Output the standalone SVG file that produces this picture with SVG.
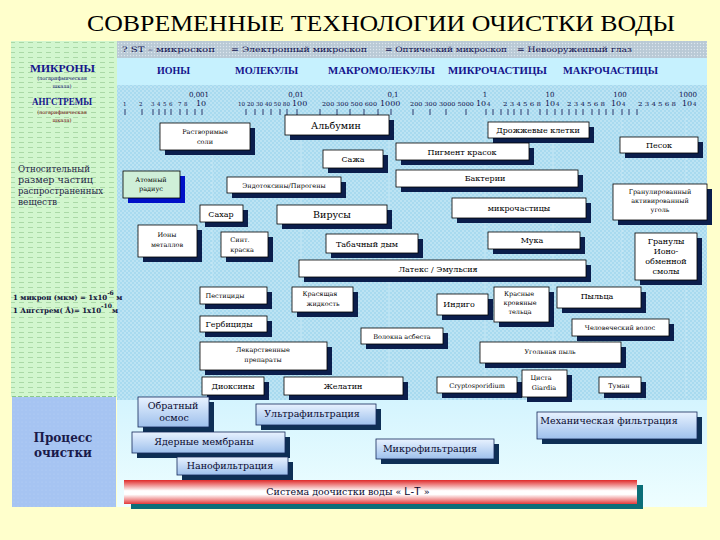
<svg xmlns="http://www.w3.org/2000/svg" width="720" height="540" viewBox="0 0 720 540">
<defs>
<pattern id="dots" width="4" height="4" patternUnits="userSpaceOnUse">
<rect width="4" height="4" fill="#A8DAEF"/>
<circle cx="1" cy="1" r="0.8" fill="#D6EFF9"/>
<circle cx="3" cy="3" r="0.8" fill="#D6EFF9"/>
</pattern>
<pattern id="grey" width="3" height="3" patternUnits="userSpaceOnUse">
<rect width="3" height="3" fill="#B9C9D5"/>
<circle cx="1.5" cy="1.5" r="0.7" fill="#DCE6EE"/>
</pattern>
<pattern id="green" width="9" height="5" patternUnits="userSpaceOnUse">
<rect width="9" height="5" fill="#D2F6CE"/>
<line x1="1" y1="2.5" x2="6" y2="2.5" stroke="#A6D6A2" stroke-width="0.9"/>
</pattern>
<pattern id="blue" width="4" height="4" patternUnits="userSpaceOnUse">
<rect width="4" height="4" fill="#A6C4F2"/>
<circle cx="2" cy="2" r="0.6" fill="#B6D0F6"/>
</pattern>
<linearGradient id="lowbg" x1="0" y1="0" x2="0" y2="1">
<stop offset="0" stop-color="#D4F4FE"/>
<stop offset="1" stop-color="#EEFEFF"/>
</linearGradient>
<linearGradient id="pg" x1="0" y1="0" x2="0" y2="1">
<stop offset="0" stop-color="#E8F2FF"/>
<stop offset="1" stop-color="#9EC0EC"/>
</linearGradient>
<linearGradient id="lt" x1="0" y1="0" x2="0" y2="1">
<stop offset="0" stop-color="#E02A2A"/>
<stop offset="0.45" stop-color="#FFFFFF"/>
<stop offset="0.6" stop-color="#FFFFFF"/>
<stop offset="1" stop-color="#E23A3A"/>
</linearGradient>
<style>
.ttl{font-family:"Liberation Serif","Times New Roman",serif;font-size:24px;fill:#000;text-anchor:middle}
.bx{fill:#FFFFFF;stroke:#000;stroke-width:0.8}
.sh{fill:#0B1E4C}
.t{font-family:"DejaVu Serif","Liberation Serif",serif;font-size:8px;fill:#000;text-anchor:middle}
.s{font-size:6.5px}
.m{font-size:9.5px}
.pb{fill:url(#pg);stroke:#14285A;stroke-width:0.8}
.psh{fill:#0E2F55}
.p{font-family:"DejaVu Serif","Liberation Serif",serif;font-size:9.5px;fill:#0A0A30;text-anchor:middle}
.cat{font-family:"Liberation Serif","DejaVu Serif",serif;font-size:9.5px;font-weight:bold;fill:#14148C}
.num{font-family:"DejaVu Serif","Liberation Serif",serif;font-size:5.5px;fill:#10104A}
.big{font-size:8px}
.dec{font-family:"DejaVu Serif","Liberation Serif",serif;font-size:7px;fill:#10104A;text-anchor:middle}
.mic{font-family:"DejaVu Serif","Liberation Serif",serif;font-size:7.5px;fill:#101050}
.lf{font-family:"DejaVu Serif","Liberation Serif",serif}
.tick{stroke:#10104A;stroke-width:0.8}
.vl{stroke:#CDEBF7;stroke-width:1;stroke-dasharray:2 2}
</style>
</defs>
<rect width="720" height="540" fill="#FFFFCC"/>
<g id="title">
<text class="ttl" x="381" y="31" textLength="588" lengthAdjust="spacingAndGlyphs">СОВРЕМЕННЫЕ ТЕХНОЛОГИИ ОЧИСТКИ ВОДЫ</text>
</g>
<g id="panels">
<rect x="11" y="41" width="106" height="356" fill="url(#green)"/>
<rect x="117" y="41" width="590" height="17" fill="url(#grey)"/>
<rect x="117" y="58" width="590" height="27" fill="#C6F1FE"/>
<rect x="117" y="85" width="590" height="315" fill="url(#dots)"/>
<rect x="117" y="400" width="590" height="107" fill="url(#lowbg)"/>
<rect x="12" y="397" width="104" height="110" fill="url(#blue)"/>
<line x1="12" y1="396.5" x2="116" y2="396.5" stroke="#8CC88A" stroke-width="1" stroke-dasharray="4 2"/>
<line class="vl" x1="212" y1="118" x2="212" y2="398"/>
<line class="vl" x1="301" y1="118" x2="301" y2="398"/>
<line class="vl" x1="389" y1="118" x2="389" y2="398"/>
<line class="vl" x1="485" y1="118" x2="485" y2="398"/>
<line class="vl" x1="553" y1="118" x2="553" y2="398"/>
<line class="vl" x1="622" y1="118" x2="622" y2="398"/>
<line class="vl" x1="686" y1="118" x2="686" y2="398"/>
</g>
<g id="microscopes">
<text class="mic" x="122" y="52" textLength="93" lengthAdjust="spacingAndGlyphs">?  ST – микроскоп</text>
<text class="mic" x="231" y="52" textLength="136" lengthAdjust="spacingAndGlyphs">= Электронный микроскоп</text>
<text class="mic" x="385" y="52" textLength="122" lengthAdjust="spacingAndGlyphs">= Оптический микроскоп</text>
<text class="mic" x="517" y="52" textLength="115" lengthAdjust="spacingAndGlyphs">= Невооруженный глаз</text>
</g>
<g id="categories">
<text class="cat" x="157" y="74" textLength="33" lengthAdjust="spacingAndGlyphs">ИОНЫ</text>
<text class="cat" x="235" y="74" textLength="63" lengthAdjust="spacingAndGlyphs">МОЛЕКУЛЫ</text>
<text class="cat" x="328" y="74" textLength="107" lengthAdjust="spacingAndGlyphs">МАКРОМОЛЕКУЛЫ</text>
<text class="cat" x="448" y="74" textLength="99" lengthAdjust="spacingAndGlyphs">МИКРОЧАСТИЦЫ</text>
<text class="cat" x="563" y="74" textLength="95" lengthAdjust="spacingAndGlyphs">МАКРОЧАСТИЦЫ</text>
</g>
<g id="left-labels">
<text class="cat" x="30" y="72" font-size="11" fill="#0A0A6A" textLength="65" lengthAdjust="spacingAndGlyphs">МИКРОНЫ</text>
<text class="lf" x="62" y="80" text-anchor="middle" font-size="5" fill="#0A0A6A">(логарифмическая</text>
<text class="lf" x="62" y="88" text-anchor="middle" font-size="5" fill="#0A0A6A">шкала)</text>
<text class="cat" x="32" y="105" font-size="10" fill="#8C0000" textLength="60" lengthAdjust="spacingAndGlyphs">АНГСТРЕМЫ</text>
<text class="lf" x="62" y="114" text-anchor="middle" font-size="5" fill="#6A0000">(логарифмическая</text>
<text class="lf" x="62" y="122" text-anchor="middle" font-size="5" fill="#6A0000">шкала)</text>
<text class="lf" x="18" y="172" font-size="9" fill="#262648" textLength="72" lengthAdjust="spacingAndGlyphs">Относительный</text>
<text class="lf" x="18" y="183" font-size="9" fill="#262648" textLength="75" lengthAdjust="spacingAndGlyphs">размер частиц</text>
<text class="lf" x="18" y="194" font-size="9" fill="#262648" textLength="85" lengthAdjust="spacingAndGlyphs">распространенных</text>
<text class="lf" x="18" y="205" font-size="9" fill="#262648">веществ</text>
<text class="lf" x="13" y="300" font-size="7" font-weight="bold" fill="#10103A">1  микрон (мкм) = 1x10<tspan dy="-5" font-size="6">-6</tspan><tspan dy="5"> м</tspan></text>
<text class="lf" x="13" y="313" font-size="7" font-weight="bold" fill="#10103A">1  Ангстрем(  Å)= 1x10<tspan dy="-5" font-size="6">-10</tspan><tspan dy="5">м</tspan></text>
<text class="lf" x="63" y="442" text-anchor="middle" font-size="12" font-weight="bold" fill="#1A1A4A">Процесс</text>
<text class="lf" x="63" y="457" text-anchor="middle" font-size="12" font-weight="bold" fill="#1A1A4A">очистки</text>
</g>
<g id="scale">
<text class="dec" x="199" y="97">0,001</text>
<text class="dec" x="296" y="97">0,01</text>
<text class="dec" x="393" y="97">0,1</text>
<text class="dec" x="485" y="97">1</text>
<text class="dec" x="550" y="97">10</text>
<text class="dec" x="620" y="97">100</text>
<text class="dec" x="688" y="97">1000</text>
<text class="num" x="123" y="106">1</text>
<text class="num" x="139" y="106">2</text>
<text class="num" x="151" y="106">3</text>
<text class="num" x="157" y="106">4</text>
<text class="num" x="163" y="106">5</text>
<text class="num" x="169" y="106">6</text>
<text class="num" x="178" y="106">7</text>
<text class="num" x="184" y="106">8</text>
<text class="num big" x="196" y="106">10</text>
<text class="num" x="238" y="106" textLength="52" lengthAdjust="spacingAndGlyphs">10 20 30 40 50 80</text>
<text class="num big" x="292" y="106">100</text>
<text class="num" x="322" y="106" textLength="55" lengthAdjust="spacingAndGlyphs">200  300  500  600</text>
<text class="num big" x="380" y="106">1000</text>
<text class="num" x="410" y="106" textLength="64" lengthAdjust="spacingAndGlyphs">200   300   3000  5000</text>
<text class="num big" x="476" y="106">10</text><text class="num" x="487" y="106">4</text>
<text class="num" x="503" y="106" textLength="38" lengthAdjust="spacingAndGlyphs">2  3  4  5  6  8</text>
<text class="num big" x="545" y="106">10</text><text class="num" x="556" y="106">4</text>
<text class="num" x="567" y="106" textLength="38" lengthAdjust="spacingAndGlyphs">2  3  4  5  6  8</text>
<text class="num big" x="611" y="106">10</text><text class="num" x="622" y="106">4</text>
<text class="num" x="638" y="106" textLength="38" lengthAdjust="spacingAndGlyphs">2  3  4  5  6  8</text>
<text class="num big" x="682" y="106">10</text><text class="num" x="693" y="106">4</text>
<path class="tick" d="M125 109v6M142 109v6M153 109v6M159 109v6M165 109v6M171 109v6M180 109v6M187 109v6M195 109v6M202 109v6M246 109v6M255 109v6M263 109v6M271 109v6M280 109v6M287 109v6M297 109v6M320 109v6M337 109v6M350 109v6M364 109v6M378 109v6M391 109v6M413 109v6M430 109v6M446 109v6M466 109v6M486 109v6M493 109v6M501 109v6M508 109v6M514 109v6M521 109v6M528 109v6M540 109v6M547 109v6M555 109v6M562 109v6M569 109v6M576 109v6M583 109v6M592 109v6M599 109v6M606 109v6M613 109v6M622 109v6M629 109v6M637 109v6"/>
</g>
<g id="connectors"></g>
<g id="n-soli"><rect class="sh" x="165" y="128" width="90" height="27"/><rect class="bx" x="160" y="123" width="90" height="27"/><text class="t s" x="205" y="134">Растворимые</text><text class="t s" x="205" y="144">соли</text></g>
<g id="n-albumin"><rect class="sh" x="290" y="120" width="104" height="20"/><rect class="bx" x="285" y="115" width="104" height="20"/><text class="t m" x="336" y="129">Альбумин</text></g>
<g id="n-yeast"><rect class="sh" x="493" y="127" width="101" height="16"/><rect class="bx" x="488" y="122" width="101" height="16"/><text class="t" x="538" y="133">Дрожжевые клетки</text></g>
<g id="n-soot"><rect class="sh" x="328" y="155" width="60" height="18"/><rect class="bx" x="323" y="150" width="60" height="18"/><text class="t" x="353" y="162">Сажа</text></g>
<g id="n-pigment"><rect class="sh" x="401" y="148" width="133" height="17"/><rect class="bx" x="396" y="143" width="133" height="17"/><text class="t" x="462" y="155">Пигмент красок</text></g>
<g id="n-sand"><rect class="sh" x="625" y="142" width="78" height="16"/><rect class="bx" x="620" y="137" width="78" height="16"/><text class="t" x="659" y="148">Песок</text></g>
<g id="n-atom"><rect x="128" y="176" width="57" height="27" fill="#0010C8"/><rect x="123" y="171" width="57" height="27" fill="#CFEFD8" stroke="#000" stroke-width="0.8"/><text class="t s" x="151" y="182">Атомный</text><text class="t s" x="151" y="191">радиус</text></g>
<g id="n-endo"><rect class="sh" x="232" y="182" width="114" height="16"/><rect class="bx" x="227" y="177" width="114" height="16"/><text class="t s" x="284" y="188">Эндотоксины/Пирогены</text></g>
<g id="n-bact"><rect class="sh" x="401" y="175" width="182" height="17"/><rect class="bx" x="396" y="170" width="182" height="17"/><text class="t" x="485" y="181">Бактерии</text></g>
<g id="n-gac"><rect class="sh" x="618" y="189" width="94" height="36"/><rect class="bx" x="613" y="184" width="94" height="36"/><text class="t s" x="660" y="194">Гранулированный</text><text class="t s" x="660" y="203">активированный</text><text class="t s" x="660" y="212">уголь</text></g>
<g id="n-sugar"><rect class="sh" x="205" y="210" width="43" height="17"/><rect class="bx" x="200" y="205" width="43" height="17"/><text class="t" x="221" y="217">Сахар</text></g>
<g id="n-virus"><rect class="sh" x="282" y="210" width="110" height="19"/><rect class="bx" x="277" y="205" width="110" height="19"/><text class="t m" x="332" y="218">Вирусы</text></g>
<g id="n-micro"><rect class="sh" x="457" y="203" width="134" height="20"/><rect class="bx" x="452" y="198" width="134" height="20"/><text class="t" x="519" y="211">микрочастицы</text></g>
<g id="n-ions"><rect class="sh" x="143" y="230" width="59" height="32"/><rect class="bx" x="138" y="225" width="59" height="32"/><text class="t s" x="167" y="237">Ионы</text><text class="t s" x="167" y="247">металлов</text></g>
<g id="n-synth"><rect class="sh" x="226" y="237" width="47" height="25"/><rect class="bx" x="221" y="232" width="47" height="25"/><text class="t s" x="240" y="242">Синт.</text><text class="t s" x="242" y="252">краска</text></g>
<g id="n-smoke"><rect class="sh" x="331" y="239" width="92" height="19"/><rect class="bx" x="326" y="234" width="92" height="19"/><text class="t" x="367" y="247">Табачный дым</text></g>
<g id="n-flour"><rect class="sh" x="493" y="237" width="92" height="17"/><rect class="bx" x="488" y="232" width="92" height="17"/><text class="t" x="532" y="243">Мука</text></g>
<g id="n-resin"><rect class="sh" x="640" y="238" width="62" height="47"/><rect class="bx" x="635" y="233" width="62" height="47"/><text class="t" x="666" y="244">Гранулы</text><text class="t" x="666" y="254">Ионо-</text><text class="t" x="666" y="264">обменной</text><text class="t" x="666" y="274">смолы</text></g>
<g id="n-latex"><rect class="sh" x="304" y="265" width="287" height="17"/><rect class="bx" x="299" y="260" width="287" height="17"/><text class="t" x="438" y="272">Латекс / Эмульсия</text></g>
<g id="n-pest"><rect class="sh" x="205" y="292" width="67" height="17"/><rect class="bx" x="200" y="287" width="67" height="17"/><text class="t s" x="225" y="298">Пестициды</text></g>
<g id="n-dyeliq"><rect class="sh" x="297" y="292" width="61" height="25"/><rect class="bx" x="292" y="287" width="61" height="25"/><text class="t s" x="320" y="296">Красящая</text><text class="t s" x="323" y="306">жидкость</text></g>
<g id="n-indigo"><rect class="sh" x="442" y="299" width="51" height="21"/><rect class="bx" x="437" y="294" width="51" height="21"/><text class="t" x="459" y="307">Индиго</text></g>
<g id="n-rbc"><rect class="sh" x="499" y="292" width="55" height="35"/><rect class="bx" x="494" y="287" width="55" height="35"/><text class="t s" x="519" y="296">Красные</text><text class="t s" x="520" y="305">кровяные</text><text class="t s" x="520" y="314">тельца</text></g>
<g id="n-pollen"><rect class="sh" x="562" y="292" width="84" height="21"/><rect class="bx" x="557" y="287" width="84" height="21"/><text class="t" x="597" y="299">Пыльца</text></g>
<g id="n-herb"><rect class="sh" x="205" y="321" width="67" height="16"/><rect class="bx" x="200" y="316" width="67" height="16"/><text class="t" x="229" y="327">Гербициды</text></g>
<g id="n-asb"><rect class="sh" x="366" y="333" width="82" height="16"/><rect class="bx" x="361" y="328" width="82" height="16"/><text class="t s" x="402" y="339">Волокна асбеста</text></g>
<g id="n-hair"><rect class="sh" x="577" y="324" width="97" height="17"/><rect class="bx" x="572" y="319" width="97" height="17"/><text class="t s" x="620" y="330">Человеческий волос</text></g>
<g id="n-drugs"><rect class="sh" x="205" y="347" width="127" height="28"/><rect class="bx" x="200" y="342" width="127" height="28"/><text class="t s" x="263" y="352">Лекарственные</text><text class="t s" x="263" y="362">препараты</text></g>
<g id="n-coal"><rect class="sh" x="485" y="347" width="141" height="21"/><rect class="bx" x="480" y="342" width="141" height="21"/><text class="t s" x="550" y="354">Угольная пыль</text></g>
<g id="n-diox"><rect class="sh" x="207" y="382" width="62" height="18"/><rect class="bx" x="202" y="377" width="62" height="18"/><text class="t" x="233" y="389">Диоксины</text></g>
<g id="n-gel"><rect class="sh" x="289" y="382" width="119" height="18"/><rect class="bx" x="284" y="377" width="119" height="18"/><text class="t" x="343" y="389">Желатин</text></g>
<g id="n-crypto"><rect class="sh" x="442" y="382" width="80" height="16"/><rect class="bx" x="437" y="377" width="80" height="16"/><text class="t s" x="477" y="388">Cryptosporidium</text></g>
<g id="n-giardia"><rect class="sh" x="527" y="375" width="45" height="27"/><rect class="bx" x="522" y="370" width="45" height="27"/><text class="t s" x="541" y="380">Циста</text><text class="t s" x="544" y="390">Giardia</text></g>
<g id="n-mist"><rect class="sh" x="604" y="382" width="42" height="16"/><rect class="bx" x="599" y="377" width="42" height="16"/><text class="t s" x="619" y="388">Туман</text></g>
<g id="p-ro"><rect class="psh" x="143" y="402" width="71" height="30"/><rect class="pb" x="138" y="397" width="71" height="30"/><text class="p" x="173" y="409">Обратный</text><text class="p" x="174" y="421">осмос</text></g>
<g id="p-uf"><rect class="psh" x="261" y="409" width="120" height="21"/><rect class="pb" x="256" y="404" width="120" height="21"/><text class="p" x="312" y="417">Ультрафильтрация</text></g>
<g id="p-nm"><rect class="psh" x="137" y="437" width="153" height="21"/><rect class="pb" x="132" y="432" width="153" height="21"/><text class="p" x="204" y="445">Ядерные мембраны</text></g>
<g id="p-nf"><rect class="psh" x="182" y="462" width="111" height="18"/><rect class="pb" x="177" y="457" width="111" height="18"/><text class="p" x="230" y="469">Нанофильтрация</text></g>
<g id="p-mf"><rect class="psh" x="381" y="444" width="118" height="20"/><rect class="pb" x="376" y="439" width="118" height="20"/><text class="p" x="430" y="452">Микрофильтрация</text></g>
<g id="p-mech"><rect class="psh" x="542" y="417" width="160" height="27"/><rect class="pb" x="537" y="412" width="160" height="27"/><text class="p" x="609" y="424">Механическая фильтрация</text></g>
<g id="p-lt"><rect x="131" y="485" width="512" height="24" fill="#0A6E78"/><rect x="124" y="480" width="513" height="24" fill="url(#lt)"/><text class="p" x="348" y="495" font-size="8.5" fill="#000">Система доочистки воды « <tspan font-family="Liberation Sans, Arial, sans-serif" font-size="11">L-T</tspan> »</text></g>
</svg>
